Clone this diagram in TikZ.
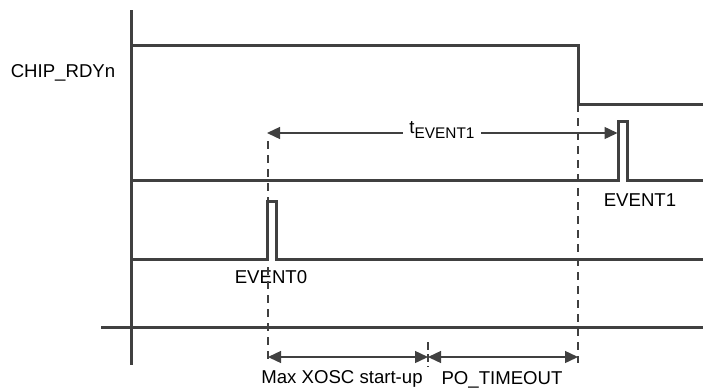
\documentclass[tikz,border=0pt]{standalone}
\usepackage{fontspec}
\setmainfont{Liberation Sans}
\usetikzlibrary{arrows.meta}
\definecolor{sig}{HTML}{404040}
\newcommand{\subtxt}[1]{\raisebox{-5pt}{\fontsize{15.4}{18}\selectfont #1}}
\tikzset{
  x=1pt, y=-1pt,
  signal/.style={draw=sig, line width=3pt, line join=miter},
  axisline/.style={draw=sig, line width=3pt},
  guide/.style={draw=sig, line width=1.3pt, dash pattern=on 8pt off 6pt},
  span/.style={draw=sig, line width=1.4pt, {Triangle[length=13pt,width=12pt]}-{Triangle[length=13pt,width=12pt]}},
  lbl/.style={font=\fontsize{18.6}{22}\selectfont, text=black, inner sep=1pt}
}
\begin{document}
\begin{tikzpicture}
\useasboundingbox (0,0) rectangle (703,391);
% axes
\draw[axisline] (131,10) -- (131,365);
\draw[axisline] (101,327.5) -- (703,327.5);
% CHIP_RDYn
\draw[signal] (131,45) -- (578,45) -- (578,104) -- (703,104);
\node[lbl] (rdy) at (63,73) {CHIP\_RDYn};
% EVENT1 line and pulse
\draw[signal] (131,180) -- (618,180) -- (618,121) -- (627.5,121) -- (627.5,180) -- (703,180);
\node[lbl] (ev1) at (640,200) {EVENT1};
% EVENT0 line and pulse
\draw[signal] (131,259) -- (267,259) -- (267,201) -- (276.5,201) -- (276.5,259) -- (703,259);
\node[lbl] (ev0) at (271,277) {EVENT0};
% guide lines
\coordinate (g0t) at (268,141);
\coordinate (g0b) at (268,363);
\coordinate (g1t) at (578,104);
\coordinate (g1b) at (578,363);
\coordinate (gmt) at (428,342);
\coordinate (gmb) at (428,367);
\draw[guide] (g0t) -- (g0b);
\draw[guide] (g1t) -- (g1b);
\draw[draw=sig, line width=1.3pt, dash pattern=on 8pt off 4pt] (gmt) -- (gmb);
% t_EVENT1 span
\coordinate (a0) at (267,133);
\coordinate (a1) at (617.5,133);
\draw[span] (a0) -- (a1);
\node[lbl, fill=white, inner xsep=6pt] (tev) at (442,130) {t\subtxt{EVENT1}};
% bottom spans
\coordinate (b0) at (268,357);
\coordinate (bm) at (428,357);
\coordinate (b1) at (578,357);
\draw[span] (b0) -- (bm);
\draw[span] (bm) -- (b1);
\node[lbl] (xosc) at (342,379) {Max XOSC start-up};
\node[lbl] (po) at (502,380) {PO\_TIMEOUT};
\end{tikzpicture}
\end{document}
